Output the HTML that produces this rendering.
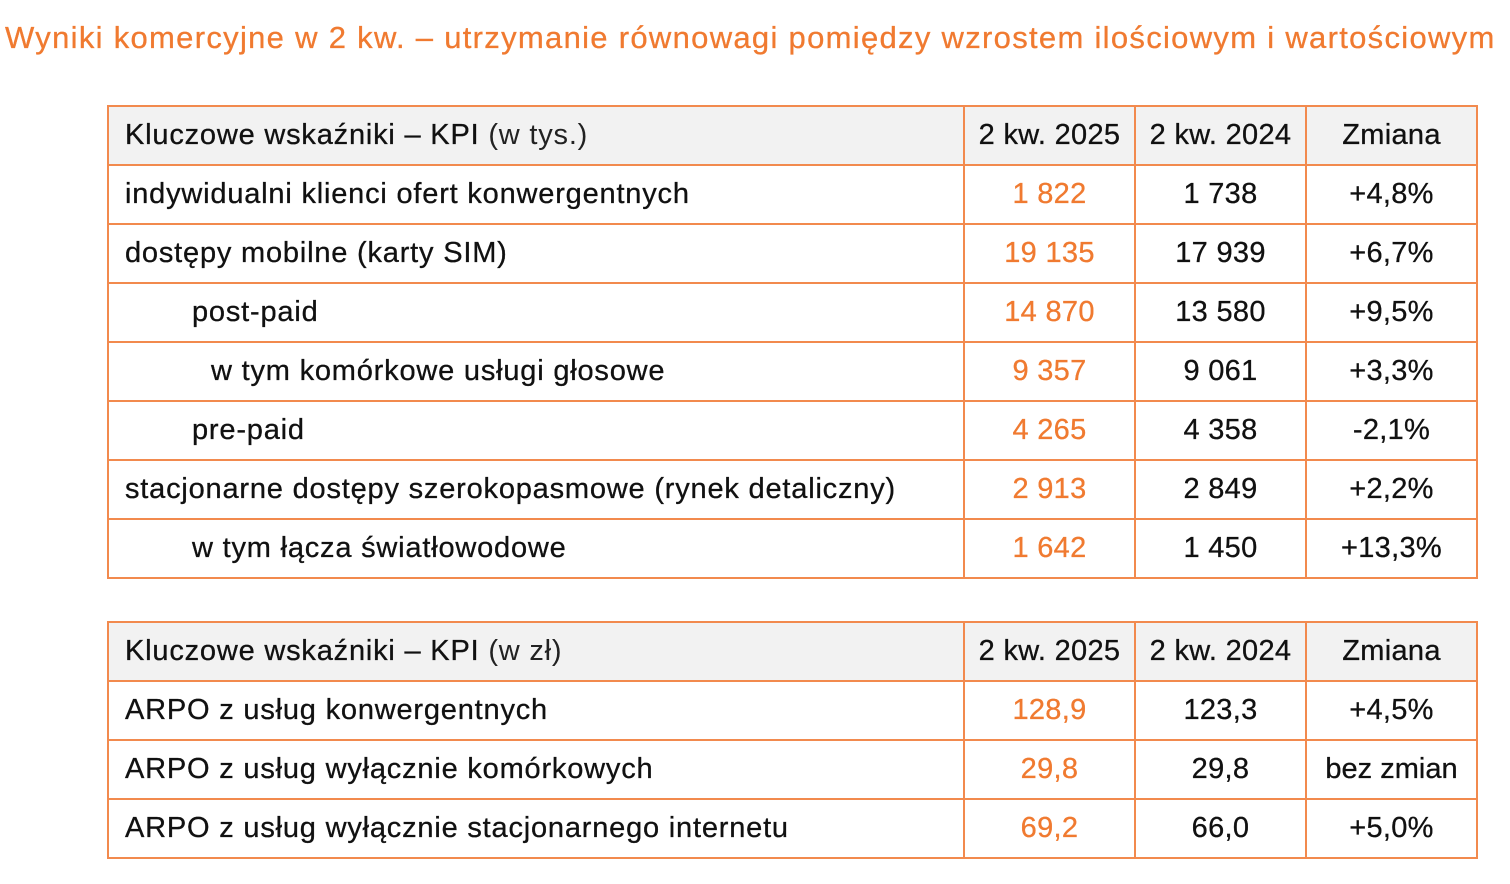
<!DOCTYPE html>
<html><head><meta charset="utf-8"><style>
body{margin:0;width:1510px;height:884px;background:#fff;font-family:"Liberation Sans",Arial,sans-serif;position:relative;overflow:hidden}
.title{position:absolute;left:5px;top:20px;font-size:31px;color:#f07a30;white-space:nowrap;letter-spacing:1.3px;-webkit-text-stroke:0.3px #f07a30}
table{position:absolute;left:107px;border-collapse:collapse;table-layout:fixed;font-size:29px;color:#111;letter-spacing:0.8px;-webkit-text-stroke:0.3px #111}
td{border:2px solid #f28a4e;height:57px;padding:0;white-space:nowrap;overflow:hidden}
td.l{padding-left:16px}
td.n{text-align:center;letter-spacing:0.3px}
td.o{color:#f07a30;-webkit-text-stroke:0.3px #f07a30}
tr.h td{background:#f2f2f2}
.lt{-webkit-text-stroke:0;color:#222}
</style></head><body>
<div class="title">Wyniki komercyjne w 2 kw. – utrzymanie równowagi pomiędzy wzrostem ilościowym i wartościowym</div>
<table style="top:105px">
<colgroup><col style="width:856px"><col style="width:171px"><col style="width:171px"><col style="width:171px"></colgroup>
<tr class="h"><td class="l">Kluczowe wskaźniki – KPI <span class="lt">(w tys.)</span></td><td class="n">2 kw. 2025</td><td class="n">2 kw. 2024</td><td class="n">Zmiana</td></tr>
<tr><td class="l">indywidualni klienci ofert konwergentnych</td><td class="n o">1 822</td><td class="n">1 738</td><td class="n">+4,8%</td></tr>
<tr><td class="l">dostępy mobilne (karty SIM)</td><td class="n o">19 135</td><td class="n">17 939</td><td class="n">+6,7%</td></tr>
<tr><td class="l" style="padding-left:83px">post-paid</td><td class="n o">14 870</td><td class="n">13 580</td><td class="n">+9,5%</td></tr>
<tr><td class="l" style="padding-left:102px">w tym komórkowe usługi głosowe</td><td class="n o">9 357</td><td class="n">9 061</td><td class="n">+3,3%</td></tr>
<tr><td class="l" style="padding-left:83px">pre-paid</td><td class="n o">4 265</td><td class="n">4 358</td><td class="n">-2,1%</td></tr>
<tr><td class="l">stacjonarne dostępy szerokopasmowe (rynek detaliczny)</td><td class="n o">2 913</td><td class="n">2 849</td><td class="n">+2,2%</td></tr>
<tr><td class="l" style="padding-left:83px">w tym łącza światłowodowe</td><td class="n o">1 642</td><td class="n">1 450</td><td class="n">+13,3%</td></tr>
</table>
<table style="top:621px">
<colgroup><col style="width:856px"><col style="width:171px"><col style="width:171px"><col style="width:171px"></colgroup>
<tr class="h"><td class="l">Kluczowe wskaźniki – KPI <span class="lt">(w zł)</span></td><td class="n">2 kw. 2025</td><td class="n">2 kw. 2024</td><td class="n">Zmiana</td></tr>
<tr><td class="l">ARPO z usług konwergentnych</td><td class="n o">128,9</td><td class="n">123,3</td><td class="n">+4,5%</td></tr>
<tr><td class="l">ARPO z usług wyłącznie komórkowych</td><td class="n o">29,8</td><td class="n">29,8</td><td class="n" style="letter-spacing:0">bez zmian</td></tr>
<tr><td class="l">ARPO z usług wyłącznie stacjonarnego internetu</td><td class="n o">69,2</td><td class="n">66,0</td><td class="n">+5,0%</td></tr>
</table>
</body></html>
